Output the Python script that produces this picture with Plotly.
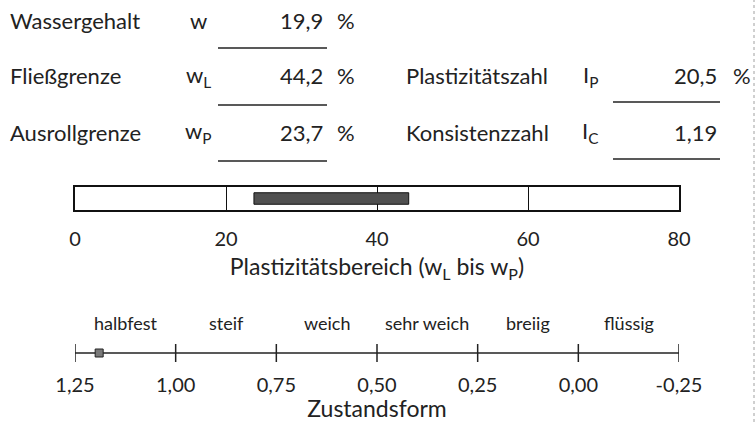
import plotly.graph_objects as go

# --- soil test values -------------------------------------------------
w_nat = 19.9      # Wassergehalt w [%]
w_L = 44.2        # Fließgrenze [%]
w_P = 23.7        # Ausrollgrenze [%]
I_P = 20.5        # Plastizitätszahl [%]
I_C = 1.19        # Konsistenzzahl [-]

# plasticity scale
plast_ticks = [0, 20, 40, 60, 80]

# consistency scale
cons_ticks = [1.25, 1.00, 0.75, 0.50, 0.25, 0.00, -0.25]
cons_ticktext = ["1,25", "1,00", "0,75", "0,50", "0,25", "0,00", "-0,25"]
cons_states = ["halbfest", "steif", "weich", "sehr weich", "breiig", "flüssig"]

W, H = 756, 422
FONT = "Lato"
INK = "#222222"


def px(x):
    return x / W


def py(y):
    return 1 - y / H


def fmt(v, nd=1):
    return f"{v:.{nd}f}".replace(".", ",")


fig = go.Figure()

# plasticity range bar (w_P .. w_L)
fig.add_trace(go.Bar(
    orientation="h", y=[0.5], x=[w_L - w_P], base=[w_P], width=0.5,
    marker=dict(color="#505050", line=dict(color="#111", width=1)),
    xaxis="x", yaxis="y", hoverinfo="skip", showlegend=False,
))

# consistency scale: base line, tick marks and the I_C marker
fig.add_trace(go.Scatter(
    x=[cons_ticks[0], cons_ticks[-1]], y=[0.5, 0.5], mode="lines",
    line=dict(color=INK, width=1.5), xaxis="x2", yaxis="y2",
    hoverinfo="skip", showlegend=False,
))
fig.add_trace(go.Scatter(
    x=cons_ticks, y=[0.5] * len(cons_ticks), mode="markers",
    marker=dict(symbol="line-ns", size=14, line=dict(color=INK, width=1.5)),
    xaxis="x2", yaxis="y2", hoverinfo="skip", showlegend=False,
))
fig.add_trace(go.Scatter(
    x=[I_C], y=[0.5], mode="markers",
    marker=dict(symbol="square", size=8, color="#7a7a7a",
                line=dict(color="#222", width=1)),
    xaxis="x2", yaxis="y2", hoverinfo="skip", showlegend=False,
))

# state names centred in each interval of the consistency scale
annotations = []
for i, name in enumerate(cons_states):
    mid = (cons_ticks[i] + cons_ticks[i + 1]) / 2
    annotations.append(dict(
        x=mid, xref="x2", y=py(323), yref="paper", text=name,
        showarrow=False, xanchor="center", yanchor="middle",
        font=dict(family=FONT, size=18, color=INK),
    ))

# header fields
rows_left = [
    ("Wassergehalt", "w", fmt(w_nat), "%", 20, 48),
    ("Fließgrenze", "w<sub>L</sub>", fmt(w_L), "%", 76, 105),
    ("Ausrollgrenze", "w<sub>P</sub>", fmt(w_P), "%", 132, 161),
]
rows_right = [
    ("Plastizitätszahl", "I<sub>P</sub>", fmt(I_P), "%", 76, 102),
    ("Konsistenzzahl", "I<sub>C</sub>", fmt(I_C, 2), "", 132, 159),
]

shapes = []


def field(label, sym, val, unit, y, yline, xl, xs, xv, xu, x0, x1):
    f = dict(family=FONT, size=22, color=INK)
    common = dict(xref="paper", yref="paper", showarrow=False,
                  yanchor="middle", font=f)
    annotations.append(dict(x=px(xl), y=py(y), text=label, xanchor="left",
                            align="left", **common))
    annotations.append(dict(x=px(xs), y=py(y), text=sym, xanchor="center",
                            **common))
    annotations.append(dict(x=px(xv), y=py(y), text=val, xanchor="right",
                            align="right", **common))
    if unit:
        annotations.append(dict(x=px(xu), y=py(y), text=unit,
                                xanchor="center", **common))
    shapes.append(dict(type="line", xref="paper", yref="paper",
                       x0=px(x0), x1=px(x1), y0=py(yline), y1=py(yline),
                       line=dict(color=INK, width=1.5)))


for r in rows_left:
    field(*r, xl=8, xs=198, xv=325, xu=346, x0=218, x1=327)
for r in rows_right:
    field(*r, xl=404, xs=590, xv=719, xu=742, x0=613, x1=720)

# faint page edge on the right
shapes.append(dict(type="line", xref="paper", yref="paper",
                   x0=px(754), x1=px(754), y0=0, y1=1,
                   line=dict(color="#a0a0a0", width=1, dash="dot")))

dom = [px(75), px(679)]

fig.update_layout(
    width=W, height=H,
    autosize=False,
    margin=dict(l=0, r=0, t=0, b=0, pad=0, autoexpand=False),
    paper_bgcolor="white", plot_bgcolor="white",
    font=dict(family=FONT, color=INK),
    showlegend=False,
    annotations=annotations,
    shapes=shapes,
    xaxis=dict(
        domain=dom, range=[0, 80], anchor="y", automargin=False,
        tickvals=plast_ticks, ticks="", ticklabelstandoff=10,
        tickfont=dict(family=FONT, size=20, color=INK),
        showline=True, mirror=True, linecolor="#111", linewidth=1.5,
        showgrid=True, gridcolor="#111", gridwidth=1.2, zeroline=False,
        title=dict(text="Plastizitätsbereich (w<sub>L</sub> bis w<sub>P</sub>)",
                   font=dict(family=FONT, size=23, color=INK), standoff=10),
        fixedrange=True,
    ),
    yaxis=dict(
        domain=[py(210), py(187)], range=[0, 1], anchor="x", automargin=False,
        showline=True, mirror=True, linecolor="#111", linewidth=1.5,
        showticklabels=False, showgrid=False, zeroline=False, ticks="",
        fixedrange=True,
    ),
    xaxis2=dict(
        domain=dom, range=[cons_ticks[0], cons_ticks[-1]], anchor="y2",
        automargin=False,
        tickvals=cons_ticks, ticktext=cons_ticktext, ticks="",
        ticklabelstandoff=9,
        tickfont=dict(family=FONT, size=20, color=INK),
        showline=False, showgrid=False, zeroline=False,
        title=dict(text="Zustandsform",
                   font=dict(family=FONT, size=23, color=INK), standoff=0),
        fixedrange=True,
    ),
    yaxis2=dict(
        domain=[py(362), py(344)], range=[0, 1], anchor="x2", automargin=False,
        showline=False, showticklabels=False, showgrid=False,
        zeroline=False, ticks="", fixedrange=True,
    ),
)

fig.write_html("out.html")
